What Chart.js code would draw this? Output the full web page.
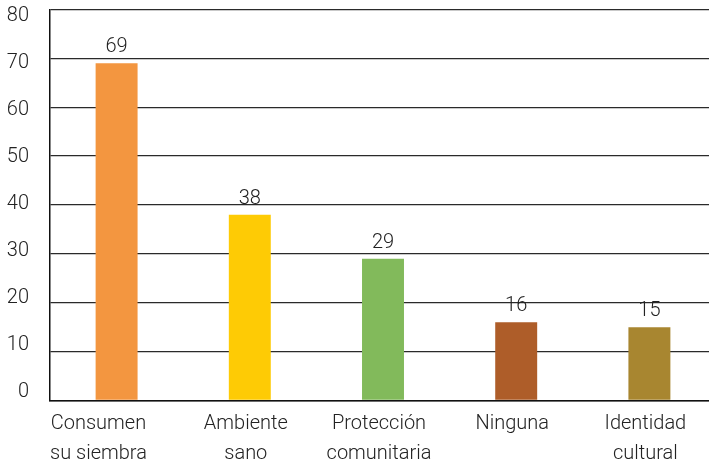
<!DOCTYPE html>
<html>
<head>
<meta charset="utf-8">
<script src="https://cdn.jsdelivr.net/npm/chart.js@4"></script>
<style>
  html, body { margin: 0; padding: 0; background: #fff; overflow: hidden; }
  #wrap { width: 716px; height: 465px; }
</style>
</head>
<body>
<div id="wrap"><canvas id="chart"></canvas></div>
<script>
const categories = [
  ['Consumen', 'su siembra'],
  ['Ambiente', 'sano'],
  ['Protección', 'comunitaria'],
  ['Ninguna'],
  ['Identidad', 'cultural']
];
const values = [69, 38, 29, 16, 15];
const barColors = ['#F39640', '#FECB05', '#82BA5B', '#AE5D29', '#A88630'];
const yTicks = [0, 10, 20, 30, 40, 50, 60, 70, 80];

const fontFamily = "Roboto, 'Liberation Sans', sans-serif";
const labelFont = "300 20px " + fontFamily;

// value above each bar + axis labels (drawn by hand to match the original spacing)
const labelsPlugin = {
  id: 'labelsPlugin',
  afterDatasetsDraw(chart) {
    const ctx = chart.ctx;
    const meta = chart.getDatasetMeta(0);
    const area = chart.chartArea;
    const xs = chart.scales.x;
    const ys = chart.scales.y;
    ctx.save();
    ctx.font = labelFont;
    ctx.fillStyle = '#222';

    ctx.textAlign = 'center';
    ctx.textBaseline = 'alphabetic';
    meta.data.forEach((bar, i) => {
      ctx.fillText(values[i], bar.x, bar.y - 11);
    });

    // y labels: slightly compressed towards the middle, like the source
    ctx.textAlign = 'right';
    ctx.textBaseline = 'middle';
    yTicks.forEach(v => {
      const py = ys.getPixelForValue(v);
      const ly = area.top + 6.2 + (py - area.top) * 0.9624;
      ctx.fillText(String(v), area.left - 21, ly);
    });

    // x labels: centred under the bars, the first one starts at the axis
    ctx.textAlign = 'center';
    categories.forEach((lines, i) => {
      const w = Math.max(...lines.map(s => ctx.measureText(s).width));
      const cx = i === 0 ? area.left + w / 2 : xs.getPixelForValue(i) - 4;
      lines.forEach((s, j) => {
        ctx.fillText(s, cx, area.bottom + 23 + j * 30);
      });
    });
    ctx.restore();
  }
};

const chart = new Chart(document.getElementById('chart'), {
  type: 'bar',
  data: {
    labels: categories,
    datasets: [{
      data: values,
      backgroundColor: barColors,
      borderWidth: 0,
      barPercentage: 1,
      categoryPercentage: 0.315,
    }]
  },
  options: {
    responsive: true,
    maintainAspectRatio: false,
    animation: false,
    layout: { padding: { top: 9.5, left: 0, right: 0, bottom: 0 } },
    plugins: {
      legend: { display: false },
      tooltip: { enabled: false },
    },
    scales: {
      x: {
        grid: { display: false, drawTicks: false },
        border: { color: '#111', width: 1.5 },
        ticks: { display: false },
        afterFit(scale) {
          scale.height = 64.5;
          scale.paddingLeft = 0;
          scale.paddingRight = 0;
        }
      },
      y: {
        min: 0,
        max: 80,
        afterBuildTicks(scale) { scale.ticks = yTicks.map(v => ({ value: v })); },
        grid: { color: '#2a2a2a', lineWidth: 1.3, drawTicks: false },
        border: { color: '#111', width: 1.5 },
        ticks: { display: false },
        afterFit(scale) {
          scale.width = 50;
          scale.paddingTop = 0;
          scale.paddingBottom = 0;
        }
      }
    }
  },
  plugins: [labelsPlugin]
});
</script>
</body>
</html>
